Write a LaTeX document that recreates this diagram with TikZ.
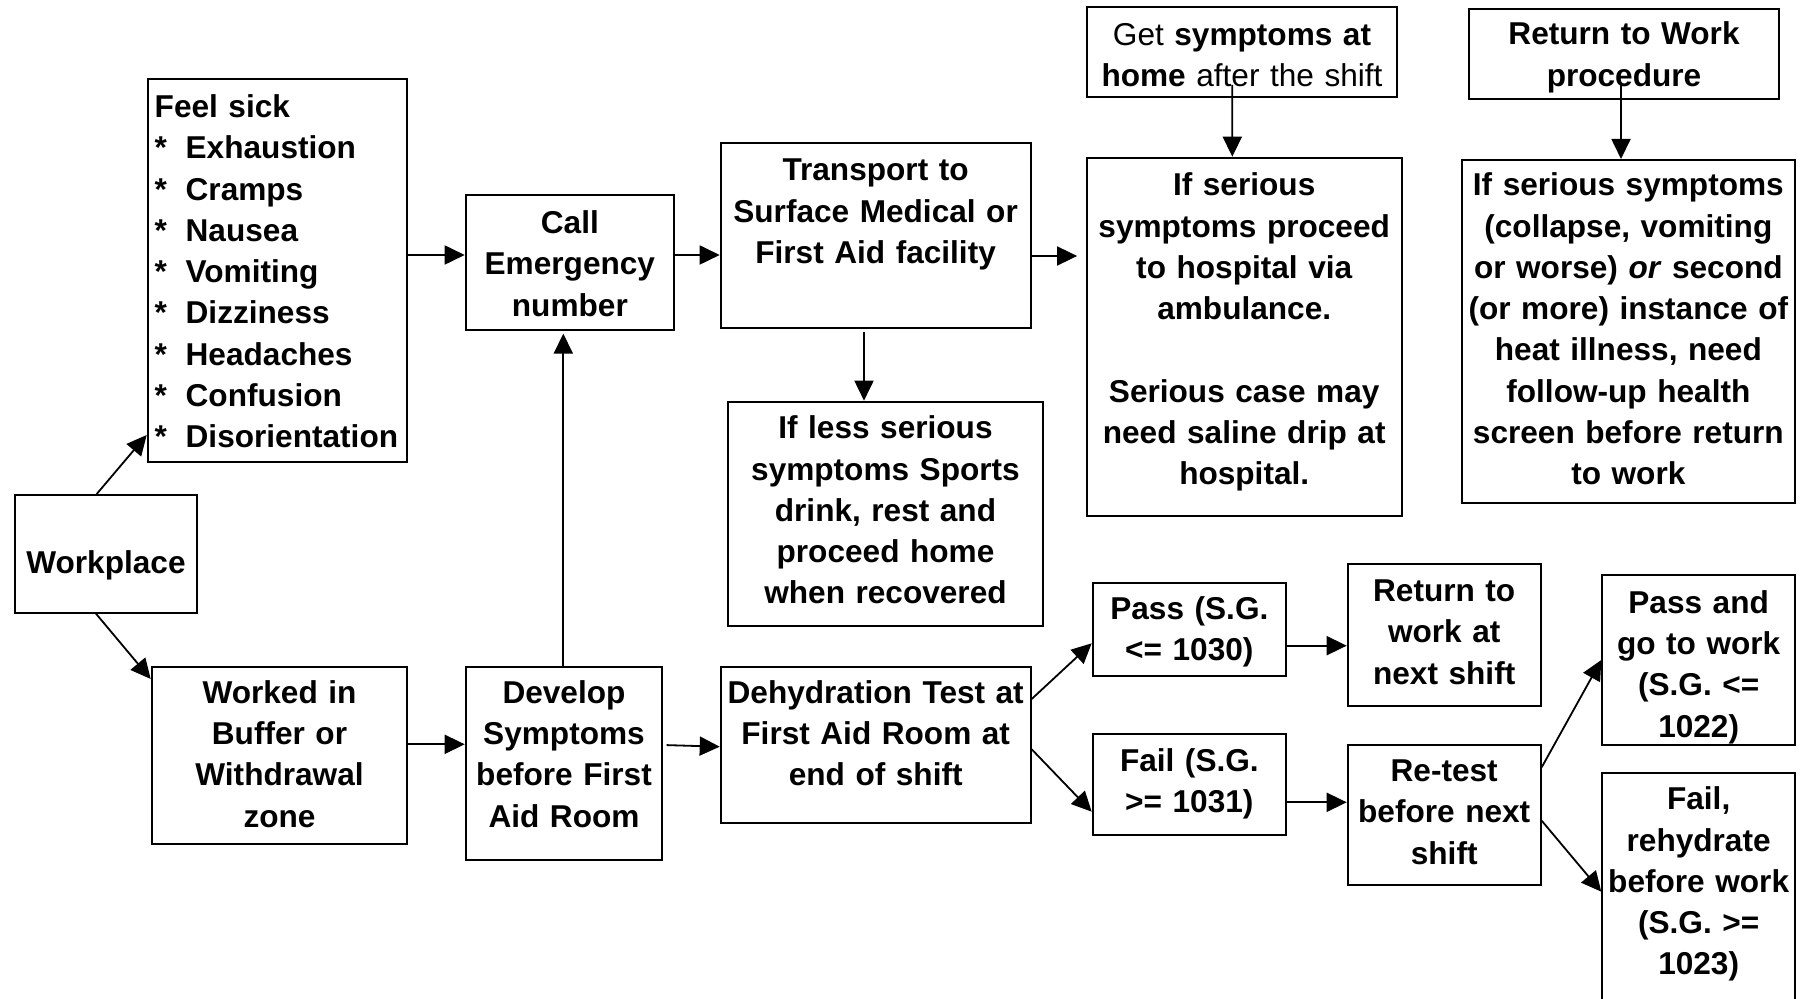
\documentclass[tikz,border=0pt]{standalone}
\usepackage{fontspec}
\setmainfont{Liberation Sans}
\usetikzlibrary{arrows.meta,calc}

\tikzset{
  boxst/.style={draw=black, line width=1pt, inner sep=0pt},
  txt/.style={inner sep=0pt, align=center, font=\fontsize{15.8pt}{20.65pt}\selectfont\bfseries},
  arr/.style={line width=0.9pt, -{Triangle[length=10pt,width=9.5pt]}},
}

\newcommand\flowbox[7]{%
  \pgfmathsetmacro\fbw{(#4-#2)*0.5}%
  \pgfmathsetmacro\fbh{(#5-#3)*0.5}%
  \pgfmathsetmacro\ftw{(#4-#2+20)*0.5}%
  \pgfmathsetmacro\fby{#6+1.5}%
  \node[boxst, minimum width=\fbw pt, minimum height=\fbh pt] (#1) at ({(#2+#4)/2},{(#3+#5)/2}) {};
  \node[txt, text width=\ftw pt, anchor=base] (#1-t) at ({(#2+#4)/2},\fby) {#7};
}

\begin{document}
\begin{tikzpicture}[x=0.5pt,y=-0.5pt]
\useasboundingbox (0,0) rectangle (1805,999);
\clip (0,0) rectangle (1805,999);
\fill[white] (0,0) rectangle (1805,999);

\flowbox{wp}{15}{495}{197}{612.7}{572.5}{Workplace}

\node[boxst, minimum width=129.8pt, minimum height=191.2pt] (feel) at (277.5,270.5) {};
\node[txt, align=left, text width=130pt, anchor=base west] (feel-t) at (154.3,117.5)
  {Feel sick\\
   \makebox[15.5pt][l]{*}Exhaustion\\
   \makebox[15.5pt][l]{*}Cramps\\
   \makebox[15.5pt][l]{*}Nausea\\
   \makebox[15.5pt][l]{*}Vomiting\\
   \makebox[15.5pt][l]{*}Dizziness\\
   \makebox[15.5pt][l]{*}Headaches\\
   \makebox[15.5pt][l]{*}Confusion\\
   \makebox[15.5pt][l]{*}Disorientation};

\flowbox{call}{465.7}{195}{674}{330}{232}{Call\\Emergency\\number}
\flowbox{trans}{720.7}{142.7}{1030.5}{327.7}{179.3}{Transport to\\Surface Medical or\\First Aid facility}
\flowbox{less}{728.3}{401.7}{1042.7}{625.7}{437.3}{If less serious\\symptoms Sports\\drink, rest and\\proceed home\\when recovered}
\flowbox{gets}{1086.7}{7.3}{1397.3}{97.3}{44}{{\mdseries Get} symptoms at\\home {\mdseries after the shift}}
\flowbox{hosp}{1086.7}{157.7}{1401.7}{515.7}{194.3}{If serious\\symptoms proceed\\to hospital via\\ambulance.\\[20.65pt]Serious case may\\need saline drip at\\hospital.}
\flowbox{rtw}{1469}{9}{1779}{99}{43.3}{Return to Work\\procedure}
\flowbox{rtws}{1461.7}{160}{1795}{503}{194.3}{If serious symptoms\\(collapse, vomiting\\or worse) \textit{or} second\\(or more) instance of\\heat illness, need\\follow-up health\\screen before return\\to work}
\flowbox{wk}{151.7}{666.7}{407.3}{844}{701.7}{Worked in\\Buffer or\\Withdrawal\\zone}
\flowbox{dev}{465.7}{666.7}{662.3}{860}{701.7}{Develop\\Symptoms\\before First\\Aid Room}
\flowbox{dehy}{720.7}{666.7}{1030.7}{823.3}{701.7}{Dehydration Test at\\First Aid Room at\\end of shift}
\flowbox{pass}{1092.7}{583.3}{1286}{676}{618}{Pass (S.G.\\<= 1030)}
\flowbox{fail}{1092.7}{734}{1286}{835}{769.5}{Fail (S.G.\\>= 1031)}
\flowbox{ret}{1347.7}{564}{1540.7}{706}{600}{Return to\\work at\\next shift}
\flowbox{retest}{1347.7}{745}{1540.7}{885}{780}{Re-test\\before next\\shift}
\flowbox{passand}{1602.3}{575}{1795}{745}{611.7}{Pass and\\go to work\\(S.G. <=\\1022)}
\flowbox{failr}{1602.3}{773.3}{1795}{1015}{808.3}{Fail,\\rehydrate\\before work\\(S.G. >=\\1023)}

% connectors
\draw[arr] (wp.north -| 96.7,0) -- (feel.west |- 0,435);
\draw[arr] (wp.south -| 96,0) -- (wk.west |- 0,679);
\draw[arr] (feel.east |- 0,255) -- (call.west |- 0,255);
\draw[arr] (call.east |- 0,255) -- (trans.west |- 0,255);
\draw[arr, shorten >=4.3pt] (trans.east |- 0,256) -- (hosp.west |- 0,256);
\draw[arr, shorten <=1.6pt] (trans.south -| 864,0) -- (less.north -| 864,0);
\draw[arr, shorten >=1.3pt] (dev.north -| 563.3,0) -- (call.south -| 563.3,0);
\draw[arr] (wk.east |- 0,744.3) -- (dev.west |- 0,744.3);
\draw[arr, shorten <=1.7pt] (dev.east |- 0,745) -- (dehy.west |- 0,746.7);
\draw[arr] (dehy.east |- 0,699) -- (pass.west |- 0,643.3);
\draw[arr] (dehy.east |- 0,749.3) -- (fail.west |- 0,811.7);
\draw[arr] (pass.east |- 0,645.7) -- (ret.west |- 0,645.7);
\draw[arr] (fail.east |- 0,802.3) -- (retest.west |- 0,802.3);
\draw[arr] (retest.east |- 0,767.3) -- (passand.west |- 0,660);
\draw[arr] (retest.east |- 0,820.7) -- (failr.west |- 0,891.7);
\draw[arr] ($(gets.south)+(-9.7,-13.3)$) -- (hosp.north -| 1232.3,0);
\draw[arr] ($(rtw.south)+(-3,-16)$) -- (rtws.north -| 1621,0);
\end{tikzpicture}
\end{document}
